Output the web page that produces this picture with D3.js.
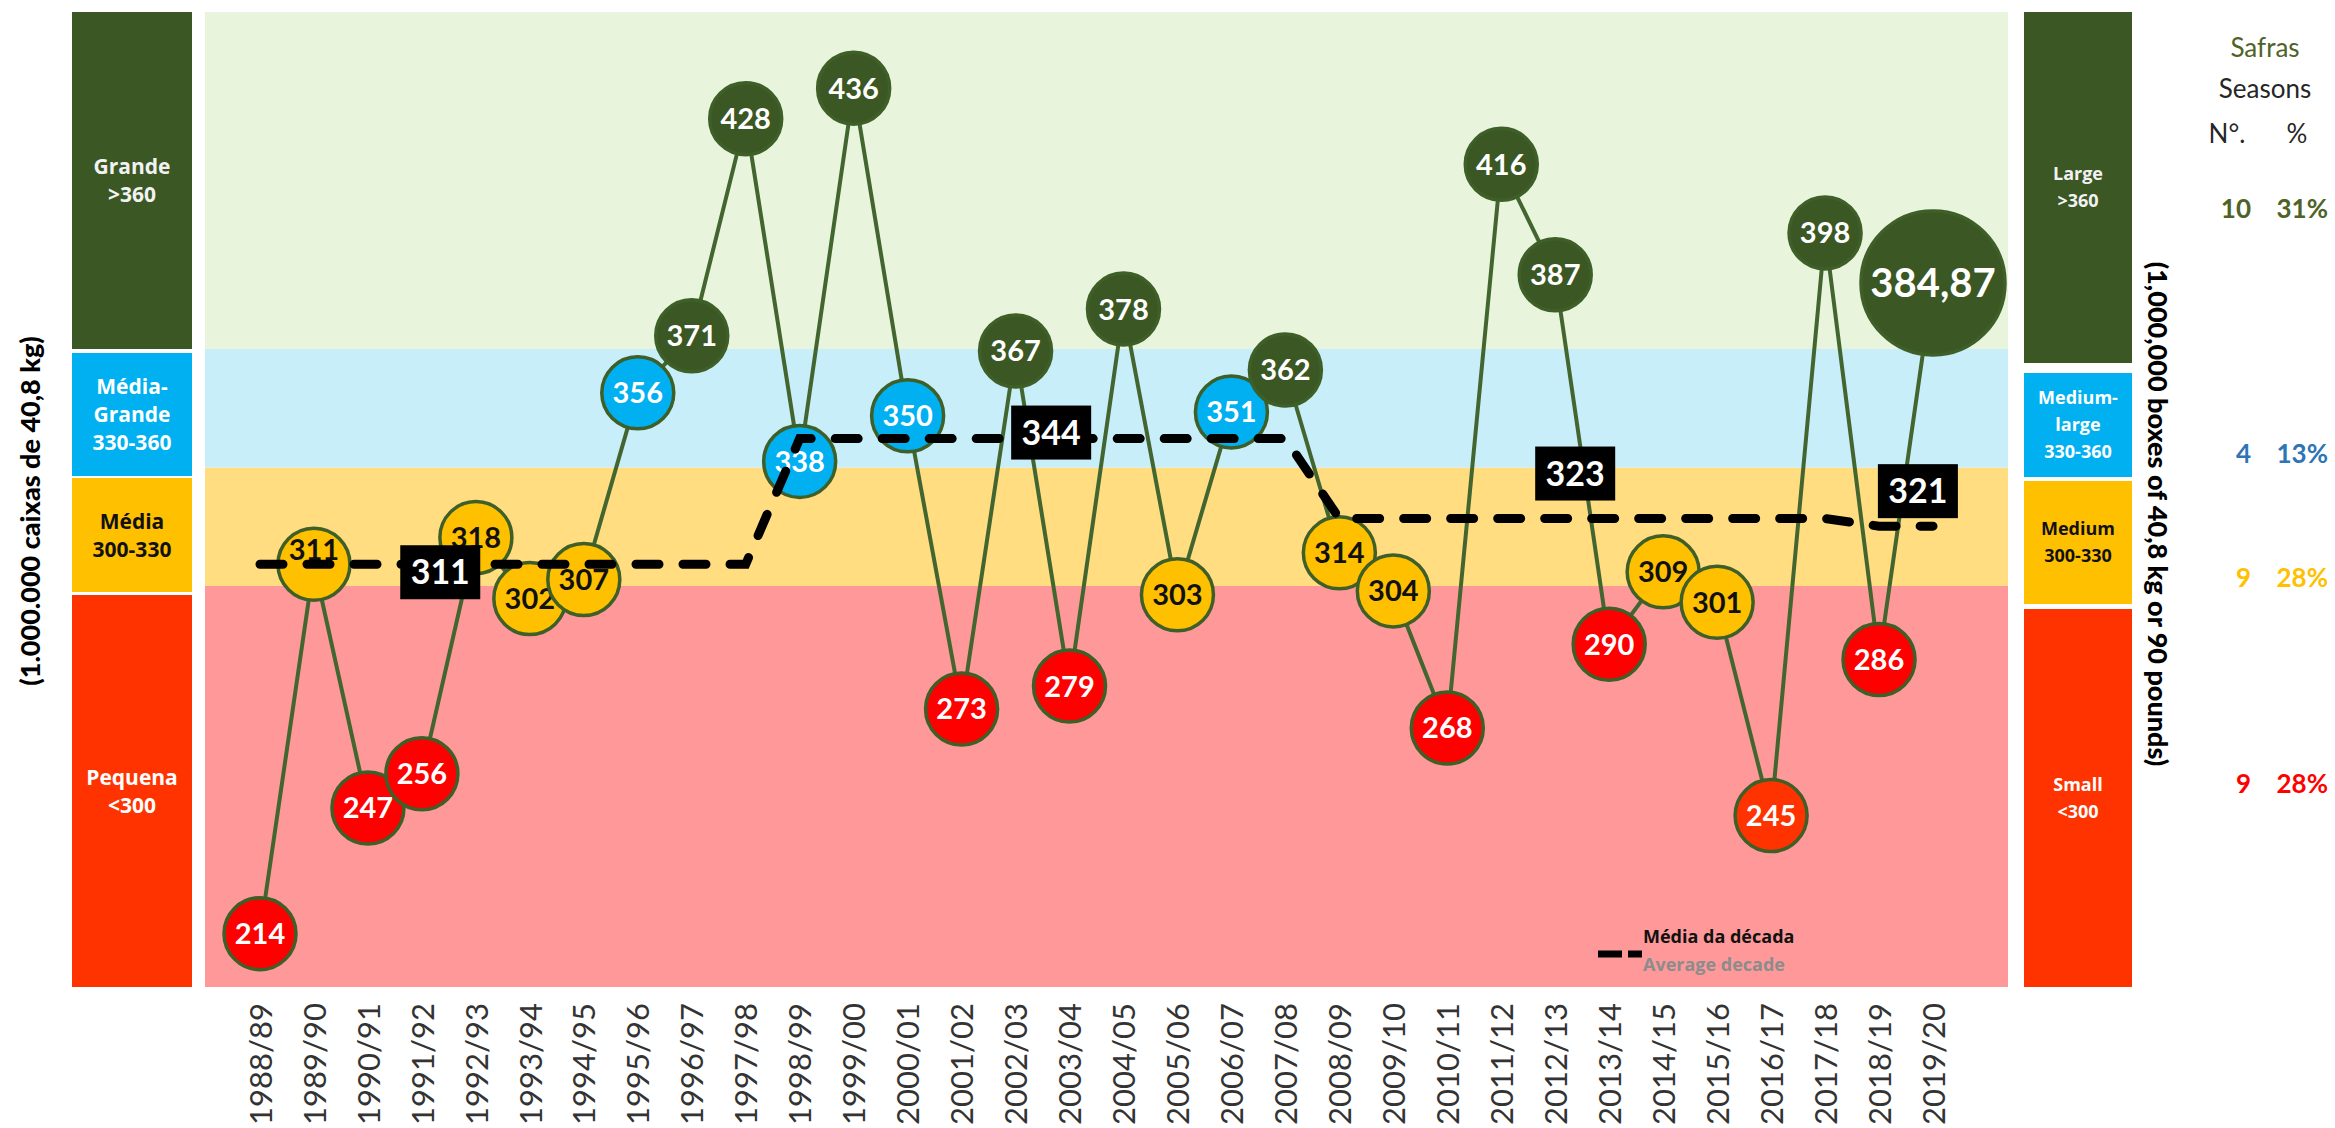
<!DOCTYPE html>
<html><head><meta charset="utf-8">
<script src="https://cdn.jsdelivr.net/npm/d3@7"></script>
<style>body{margin:0;background:#fff;} svg{display:block;}</style>
</head><body>
<svg id="chart" width="2335" height="1128"></svg>
<script>
// ---------------- DATA ----------------
const seasons = ["1988/89","1989/90","1990/91","1991/92","1992/93","1993/94","1994/95","1995/96","1996/97","1997/98",
  "1998/99","1999/00","2000/01","2001/02","2002/03","2003/04","2004/05","2005/06","2006/07","2007/08",
  "2008/09","2009/10","2010/11","2011/12","2012/13","2013/14","2014/15","2015/16","2016/17","2017/18",
  "2018/19","2019/20"];
const production = [214,311,247,256,318,302,307,356,371,428,
  338,436,350,273,367,279,378,303,351,362,
  314,304,268,416,387,290,309,301,245,398,
  286,384.87];
const decadeAverage = [311,311,311,311,311,311,311,311,311,311,
  344,344,344,344,344,344,344,344,344,344,
  323,323,323,323,323,323,323,323,323,323,
  321,321];
const decadeValues = [311,344,323,321];
const classLimits = [300,330,360];
const classLabelsPt = [["Pequena","<300"],["Média","300-330"],["Média-","Grande","330-360"],["Grande",">360"]];
const classLabelsEn = [["Small","<300"],["Medium","300-330"],["Medium-","large","330-360"],["Large",">360"]];
const leftAxisTitle = "(1.000.000 caixas de 40,8 kg)";
const rightAxisTitle = "(1,000,000 boxes of 40,8 kg or 90 pounds)";
const legendHeader = ["Safras","Seasons"];
const legendColumns = ["N°.","%"];
const avgLegend = ["Média da década","Average decade"];

// ---------------- STYLE / LAYOUT ----------------
const bubbleFill = ["#FF0000","#FFC000","#00B0F0","#3B5724"];
const bubbleFillOverride = {"2016/17":"#FF3300"};
const panelFill = ["#FF3300","#FFC000","#00B0F0","#3B5724"];
const bandFill = ["#FF9999","#FFDD80","#C8EEFA","#E8F5DC"];
const panelText = ["#FFFFFF","#111111","#FFFFFF","#F2F2F2"];
const bubbleText = ["#FFFFFF","#111111","#FFFFFF","#FFFFFF"];
const countColor = ["#FF0000","#FFC000","#2E75B6","#4F6228"];
const plot = {x0:205, x1:2008, y0:12, y1:987};
const leftPanel = {x0:72, x1:192, edges:[[595,987],[478,592],[353,476],[12,349]]};
const rightPanel = {x0:2024, x1:2132, edges:[[609,987],[481,604],[373,477],[12,363]]};
const countRowY = [793,587,463,218];
const decadeLabelLayout = [{i:3.34, dy:8},{i:14.66, dy:-6},{i:24.37, dy:-45},{i:30.72, dy:-35}];
const labelDy = {"1989/90":-15};

const svg = d3.select("#chart");
const x = d3.scalePoint().domain(seasons).range([260,1933]);
const y = d3.scaleLinear().domain([200,456]).range([plot.y1, plot.y0]);
const bandY = d3.scaleLinear().domain([300,360]).range([586,349]);
const classOf = v => classLimits.filter(l => v >= l).length;
const ptLocale = d3.formatLocale({decimal:",", thousands:".", grouping:[3], currency:["R$",""]});
const fmt = v => Number.isInteger(v) ? String(v) : ptLocale.format(".2f")(v);

// ---------------- BANDS ----------------
const bandEdges = [y.domain()[0], ...classLimits, y.domain()[1]];
const clampY = v => Math.max(plot.y0, Math.min(plot.y1, v));
svg.append("g").selectAll("rect").data(d3.range(4)).join("rect")
  .attr("x", plot.x0).attr("width", plot.x1 - plot.x0)
  .attr("y", i => i === 3 ? plot.y0 : clampY(bandY(bandEdges[i+1])))
  .attr("height", i => (i === 0 ? plot.y1 : clampY(bandY(bandEdges[i]))) - (i === 3 ? plot.y0 : clampY(bandY(bandEdges[i+1]))))
  .attr("fill", i => bandFill[i]);

// ---------------- SIDE PANELS ----------------
function drawPanel(p, labels, fontSize, lineH) {
  const g = svg.append("g");
  d3.range(4).forEach(i => {
    const [t, b] = p.edges[i];
    g.append("rect").attr("x", p.x0).attr("y", t).attr("width", p.x1 - p.x0).attr("height", b - t).attr("fill", panelFill[i]);
    const lines = labels[i];
    const cy = (t + b) / 2;
    const tx = g.append("text").attr("text-anchor","middle")
      .attr("font-family","'Open Sans', sans-serif").attr("font-weight",700)
      .attr("font-size", fontSize).attr("fill", panelText[i]);
    lines.forEach((s, k) => {
      tx.append("tspan").attr("x", (p.x0 + p.x1)/2)
        .attr("y", cy + (k - (lines.length - 1)/2) * lineH).attr("dy","0.36em").text(s);
    });
  });
}
drawPanel(leftPanel, classLabelsPt, 21, 28);
drawPanel(rightPanel, classLabelsEn, 18, 27);

// axis titles
svg.append("text").attr("transform","translate(30,511) rotate(-90)")
  .attr("text-anchor","middle").attr("dy","0.36em")
  .attr("font-family","Lato, sans-serif").attr("font-weight",900).attr("font-size",27)
  .attr("fill","#000").text(leftAxisTitle);
svg.append("text").attr("transform","translate(2158,514) rotate(90)")
  .attr("text-anchor","middle").attr("dy","0.36em")
  .attr("font-family","Lato, sans-serif").attr("font-weight",900).attr("font-size",27)
  .attr("fill","#000").text(rightAxisTitle);

// ---------------- X AXIS LABELS ----------------
const xAxis = d3.axisBottom(x).tickSize(0).tickPadding(0);
const gx = svg.append("g").attr("transform", `translate(0,${plot.y1})`).call(xAxis);
gx.select(".domain").remove();
gx.selectAll(".tick text")
  .attr("transform","translate(0,16) rotate(-90)")
  .attr("text-anchor","end").attr("x",0).attr("y",0).attr("dy","0.36em")
  .attr("font-family","Lato, sans-serif").attr("font-size",31).attr("fill","#333");

// ---------------- CONNECTING LINE ----------------
const pts = seasons.map((s, i) => ({s, v: production[i], i}));
svg.append("path").datum(pts)
  .attr("d", d3.line().x(d => x(d.s)).y(d => y(d.v)))
  .attr("fill","none").attr("stroke","#436630").attr("stroke-width",4);

// ---------------- BUBBLES ----------------
const lastIdx = pts.length - 1;
const gb = svg.append("g").selectAll("g").data(pts).join("g")
  .attr("transform", d => `translate(${x(d.s)},${y(d.v)})`);
gb.append("circle").attr("r", d => d.i === lastIdx ? 72 : 36)
  .attr("fill", d => bubbleFillOverride[d.s] || bubbleFill[classOf(d.v)])
  .attr("stroke","#3E5F28").attr("stroke-width",3.5);
gb.append("text").attr("text-anchor","middle")
  .attr("y", d => labelDy[d.s] || 0).attr("dy","0.36em")
  .attr("font-family","Lato, sans-serif").attr("font-weight",700)
  .attr("font-size", d => d.i === lastIdx ? 40 : 29)
  .attr("fill", d => bubbleText[classOf(d.v)])
  .text(d => fmt(d.v));

// ---------------- DECADE AVERAGE ----------------
svg.append("path").datum(seasons.map((s, i) => ({s, v: decadeAverage[i]})))
  .attr("d", d3.line().x(d => x(d.s)).y(d => y(d.v)))
  .attr("fill","none").attr("stroke","#000").attr("stroke-width",9)
  .attr("stroke-linecap","round").attr("stroke-dasharray","23,24");

const gd = svg.append("g").selectAll("g").data(decadeValues).join("g")
  .attr("transform", (v, k) => `translate(${x(seasons[0]) + decadeLabelLayout[k].i * x.step()},${y(v) + decadeLabelLayout[k].dy})`);
gd.append("rect").attr("x",-40).attr("y",-27).attr("width",80).attr("height",54).attr("fill","#000");
gd.append("text").attr("text-anchor","middle").attr("dy","0.36em")
  .attr("font-family","Lato, sans-serif").attr("font-weight",700).attr("font-size",34)
  .attr("fill","#fff").text(v => v);

// legend for dashed line
svg.append("line").attr("x1",1598).attr("x2",1642).attr("y1",954).attr("y2",954)
  .attr("stroke","#000").attr("stroke-width",7).attr("stroke-dasharray","24,6");
svg.append("text").attr("x",1643).attr("y",943)
  .attr("font-family","'Open Sans', sans-serif").attr("font-weight",700).attr("font-size",18)
  .attr("fill","#111").text(avgLegend[0]);
svg.append("text").attr("x",1643).attr("y",971)
  .attr("font-family","'Open Sans', sans-serif").attr("font-weight",700).attr("font-size",18)
  .attr("fill","#8C8C8C").text(avgLegend[1]);

// ---------------- COUNT LEGEND ----------------
svg.append("text").attr("x",2265).attr("y",57).attr("text-anchor","middle")
  .attr("font-family","Lato, sans-serif").attr("font-size",26).attr("fill","#4F6228").text(legendHeader[0]);
svg.append("text").attr("x",2265).attr("y",98).attr("text-anchor","middle")
  .attr("font-family","Lato, sans-serif").attr("font-size",26).attr("fill","#262626").text(legendHeader[1]);
svg.append("text").attr("x",2227).attr("y",143).attr("text-anchor","middle")
  .attr("font-family","Lato, sans-serif").attr("font-size",26).attr("fill","#262626").text(legendColumns[0]);
svg.append("text").attr("x",2297).attr("y",143).attr("text-anchor","middle")
  .attr("font-family","Lato, sans-serif").attr("font-size",26).attr("fill","#262626").text(legendColumns[1]);

const counts = d3.range(4).map(c => production.filter(v => classOf(v) === c).length);
const gc = svg.append("g").selectAll("g").data(d3.range(4)).join("g");
gc.append("text").attr("x",2251).attr("y", c => countRowY[c]).attr("text-anchor","end")
  .attr("font-family","Lato, sans-serif").attr("font-weight",700).attr("font-size",26)
  .attr("fill", c => countColor[c]).text(c => counts[c]);
gc.append("text").attr("x",2328).attr("y", c => countRowY[c]).attr("text-anchor","end")
  .attr("font-family","Lato, sans-serif").attr("font-weight",700).attr("font-size",26)
  .attr("fill", c => countColor[c]).text(c => Math.round(counts[c] / production.length * 100) + "%");
</script>
</body></html>
